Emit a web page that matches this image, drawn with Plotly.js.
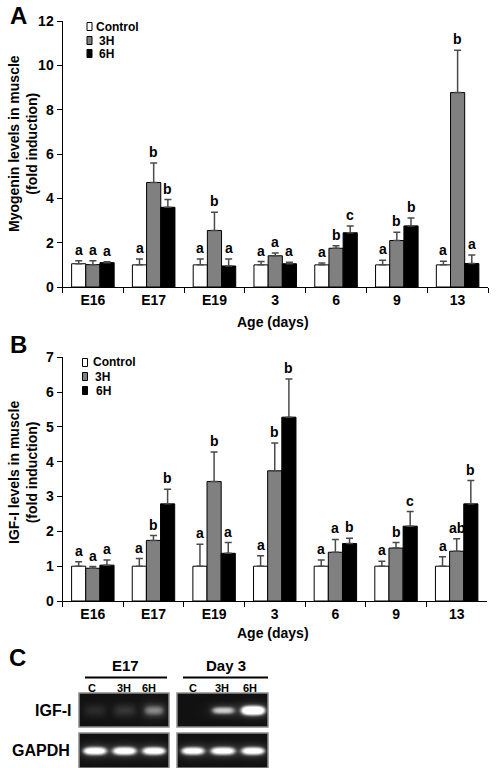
<!DOCTYPE html>
<html>
<head>
<meta charset="utf-8">
<script src="https://cdn.plot.ly/plotly-3.0.1.min.js"></script>
<style>html,body{margin:0;padding:0;background:#fff}#chart{width:498px;height:768px}</style>
</head>
<body>
<div id="chart"></div>
<script>
// ---------- DATA ----------
const categories = ["E16", "E17", "E19", "3", "6", "9", "13"];
const seriesNames = ["Control", "3H", "6H"];

// Panel A: Myogenin (fold induction)
const myoControl    = [1.05, 1.00, 1.00, 1.00, 1.00, 1.00, 1.00];
const myoControlErr = [0.13, 0.27, 0.27, 0.15, 0.08, 0.21, 0.16];
const myoControlSig = ["a", "a", "a", "a", "a", "a", "a"];
const myo3H         = [1.01, 4.72, 2.55, 1.41, 1.75, 2.10, 8.78];
const myo3HErr      = [0.17, 0.88, 0.83, 0.13, 0.11, 0.37, 1.91];
const myo3HSig      = ["a", "b", "b", "a", "b", "b", "b"];
const myo6H         = [1.10, 3.60, 0.95, 1.05, 2.45, 2.76, 1.06];
const myo6HErr      = [0.04, 0.35, 0.31, 0.07, 0.31, 0.36, 0.38];
const myo6HSig      = ["a", "b", "a", "a", "c", "b", "a"];

// Panel B: IGF-I (fold induction)
const igfControl    = [1.00, 1.00, 1.00, 1.00, 1.00, 1.00, 1.00];
const igfControlErr = [0.13, 0.22, 0.63, 0.30, 0.18, 0.14, 0.27];
const igfControlSig = ["a", "a", "a", "a", "a", "a", "a"];
const igf3H         = [0.94, 1.74, 3.43, 3.74, 1.40, 1.52, 1.43];
const igf3HErr      = [0.05, 0.14, 0.85, 0.80, 0.37, 0.16, 0.36];
const igf3HSig      = ["a", "b", "b", "b", "a", "b", "ab"];
const igf6H         = [1.03, 2.79, 1.37, 5.28, 1.65, 2.15, 2.79];
const igf6HErr      = [0.15, 0.42, 0.31, 1.10, 0.15, 0.42, 0.67];
const igf6HSig      = ["a", "b", "a", "b", "b", "c", "b"];

// Panel C: RT-PCR gel band intensities (lanes C, 3H, 6H)
const gelGroups  = ["E17", "Day 3"];
const laneLabels = ["C", "3H", "6H"];
const gelRows    = ["IGF-I", "GAPDH"];
const igfE17     = [0.13, 0.18, 0.38];
const igfDay3    = [0.00, 0.60, 1.50];
const gapdhE17   = [1.20, 1.20, 1.15];
const gapdhDay3  = [1.10, 1.10, 1.15];

// ---------- STYLE ----------
const FONT = "Liberation Sans, Arial, Helvetica, sans-serif";
const W = 498, H = 768;
const px = v => v / W;
const py = v => 1 - v / H;
const barColors = ["#ffffff", "#808080", "#000000"];
const BARGAP = 0.3;
const barW = (1 - BARGAP) / 3;
const offsets = [-barW, 0, barW];

const traces = [];
const annotations = [];
const shapes = [];

function addPanel(xa, ya, vals, errs, sigs) {
  for (let s = 0; s < 3; s++) {
    traces.push({
      type: "bar", x: categories, y: vals[s], name: seriesNames[s],
      xaxis: xa, yaxis: ya, showlegend: false, hoverinfo: "skip",
      marker: { color: barColors[s], line: { color: "#000", width: 1 } },
      error_y: { type: "data", symmetric: false, array: errs[s],
                 arrayminus: vals[s].map(() => 0), color: "#4a4a4a", thickness: 1.5, width: 3.5 }
    });
    for (let i = 0; i < categories.length; i++) {
      annotations.push({
        xref: xa, yref: ya, x: i + offsets[s], y: vals[s][i] + errs[s][i],
        text: sigs[s][i], showarrow: false, yanchor: "bottom", yshift: 1,
        font: { family: FONT, size: 14, color: "#000", weight: "bold" }
      });
    }
  }
}
addPanel("x", "y", [myoControl, myo3H, myo6H], [myoControlErr, myo3HErr, myo6HErr], [myoControlSig, myo3HSig, myo6HSig]);
addPanel("x2", "y2", [igfControl, igf3H, igf6H], [igfControlErr, igf3HErr, igf6HErr], [igfControlSig, igf3HSig, igf6HSig]);

// custom legends
function addLegend(sqX, textX, rowsY) {
  for (let s = 0; s < 3; s++) {
    shapes.push({ type: "rect", xref: "paper", yref: "paper",
      x0: px(sqX), x1: px(sqX + 5), y0: py(rowsY[s] + 4), y1: py(rowsY[s] - 4),
      fillcolor: barColors[s], line: { color: "#000", width: 1 } });
    annotations.push({ xref: "paper", yref: "paper", x: px(textX[s]), y: py(rowsY[s]),
      xanchor: "left", yanchor: "middle", showarrow: false, text: seriesNames[s],
      font: { family: FONT, size: 12, color: "#000", weight: "bold" } });
  }
}
addLegend(87, [93.5, 96.5, 96.5], [26.5, 40.5, 53.5]);
addLegend(82.5, [90.5, 93, 93.5], [362.5, 376.5, 390.5]);

// titles & panel labels
function label(x, y, text, size, extra) {
  annotations.push(Object.assign({ xref: "paper", yref: "paper", x: px(x), y: py(y),
    xanchor: "center", yanchor: "middle", showarrow: false, text: text,
    font: { family: FONT, size: size, color: "#000", weight: "bold" } }, extra || {}));
}
label(18, 0, "A", 24, { yanchor: "top" });
label(18, 344, "B", 24);
label(17, 657, "C", 24);
label(23, 144, "Myogenin levels in muscle<br>(fold induction)", 14, { textangle: -90 });
label(23, 473, "IGF-I levels in muscle<br>(fold induction)", 14, { textangle: -90 });
label(273, 322, "Age (days)", 14);
label(273, 633, "Age (days)", 14);

// ---------- GELS ----------
const gelX = [[79, 169], [177, 268]];
const gelY = [[693, 727], [733, 770]];
const laneFrac = [0.17, 0.5, 0.83];
function gelZ(intens, ySpread) {
  const nx = 90, ny = 36, z = [];
  for (let j = 0; j < ny; j++) {
    const row = [];
    const y = (j + 0.5) / ny;
    for (let i = 0; i < nx; i++) {
      const x = (i + 0.5) / nx;
      let v = 0.035;
      for (let l = 0; l < 3; l++) {
        const dx = (x - laneFrac[l]);
        const dy = (y - 0.5);
        v += intens[l] * Math.exp(-Math.pow(dx / 0.12, 4)) * Math.exp(-Math.pow(dy / ySpread, 2));
        v += 0.25 * intens[l] * Math.exp(-Math.pow(dx / 0.17, 2)) * Math.exp(-Math.pow(dy / (ySpread * 2.2), 2));
      }
      row.push(v);
    }
    z.push(row);
  }
  return z;
}
const gelData = [[igfE17, igfDay3], [gapdhE17, gapdhDay3]];
const gelSpread = [[0.16, 0.1], [0.1, 0.1]];
const gelAxes = {};
let axN = 3;
for (let r = 0; r < 2; r++) {
  for (let g = 0; g < 2; g++) {
    const n = axN++;
    traces.push({
      type: "heatmap", z: gelZ(gelData[r][g], gelSpread[r][g]),
      x0: 0.5 / 90, dx: 1 / 90, y0: 0.5 / 36, dy: 1 / 36,
      xaxis: "x" + n, yaxis: "y" + n, showscale: false, hoverinfo: "skip",
      zmin: 0, zmax: 1, zsmooth: "best",
      colorscale: [[0, "#0b0b0b"], [0.25, "#333333"], [0.6, "#a8a8a8"], [1, "#ffffff"]]
    });
    gelAxes["xaxis" + n] = { domain: [px(gelX[g][0]), px(gelX[g][1])], range: [0, 1], visible: false, fixedrange: true, anchor: "y" + n };
    gelAxes["yaxis" + n] = { domain: [Math.max(0, py(gelY[r][1])), py(gelY[r][0])], range: [0, 1], visible: false, fixedrange: true, anchor: "x" + n };
    shapes.push({ type: "rect", xref: "x" + n + " domain", yref: "y" + n + " domain",
      x0: 0, x1: 1, y0: 0, y1: 1, line: { color: "#8c8c8c", width: 1.5 }, fillcolor: "rgba(0,0,0,0)" });
  }
}
// gel group headers, underlines, lane labels, row labels
const lineSpan = [[85, 167], [183, 268]];
const laneX = [[92, 123.5, 148.5], [192.5, 222, 250]];
for (let g = 0; g < 2; g++) {
  label((lineSpan[g][0] + lineSpan[g][1]) / 2, 665, gelGroups[g], 15);
  shapes.push({ type: "line", xref: "paper", yref: "paper", x0: px(lineSpan[g][0]), x1: px(lineSpan[g][1]),
    y0: py(677.5), y1: py(677.5), line: { color: "#000", width: 2 } });
  for (let l = 0; l < 3; l++) label(laneX[g][l], 687.5, laneLabels[l], 11);
}
label(72.5, 710, gelRows[0], 16, { xanchor: "right" });
label(72, 750, gelRows[1], 16, { xanchor: "right" });

// ---------- AXES ----------
const tickFont = { family: FONT, size: 14, color: "#000", weight: "bold" };
const xCommon = { type: "category", range: [-0.5, 6.5], showline: true, linecolor: "#000", linewidth: 1,
  ticks: "outside", tickson: "boundaries", ticklen: 5, tickcolor: "#000", tickwidth: 1,
  showgrid: false, zeroline: false, tickfont: tickFont, fixedrange: true };
const yCommon = { showline: true, linecolor: "#000", linewidth: 1, ticks: "outside", ticklen: 5,
  tickcolor: "#000", tickwidth: 1, showgrid: false, zeroline: false, tickfont: tickFont, fixedrange: true };

const layout = Object.assign({
  width: W, height: H, margin: { l: 0, r: 0, t: 0, b: 0 },
  paper_bgcolor: "#fff", plot_bgcolor: "rgba(0,0,0,0)",
  barmode: "group", bargap: BARGAP, bargroupgap: 0, showlegend: false,
  font: { family: FONT, color: "#000" },
  xaxis: Object.assign({}, xCommon, { domain: [px(62.5), px(488)], anchor: "y" }),
  yaxis: Object.assign({}, yCommon, { domain: [py(287), py(21.3)], range: [0, 12], dtick: 2, anchor: "x" }),
  xaxis2: Object.assign({}, xCommon, { domain: [px(62.5), px(487)], anchor: "y2" }),
  yaxis2: Object.assign({}, yCommon, { domain: [py(601), py(357.3)], range: [0, 7], dtick: 1, anchor: "x2" }),
  annotations: annotations, shapes: shapes
}, gelAxes);

Plotly.newPlot("chart", traces, layout, { staticPlot: true, displayModeBar: false });
</script>
</body>
</html>
